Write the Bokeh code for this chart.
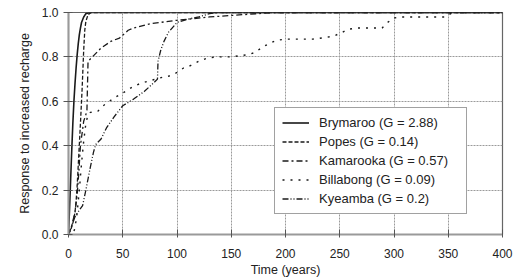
from bokeh.plotting import figure
from bokeh.models import Range1d, FixedTicker, Legend, LegendItem
from bokeh.embed import file_html
from bokeh.resources import INLINE

# --- data ---
bry_t = [0, 1, 2, 3, 4, 5, 6, 7, 8, 9, 10, 11, 12, 14, 16, 20, 400]
bry_v = [0, 0.12, 0.25, 0.38, 0.5, 0.6, 0.68, 0.75, 0.81, 0.86, 0.9, 0.93, 0.955, 0.98, 0.995, 1.0, 1.0]

pop_t = [0, 2, 4, 6, 7, 8, 9.5, 11, 12.5, 14, 15, 16, 18, 21, 400]
pop_v = [0, 0.02, 0.05, 0.1, 0.15, 0.22, 0.36, 0.5, 0.65, 0.83, 0.92, 0.96, 0.99, 1.0, 1.0]

kam_t = [0, 3, 6, 8, 9.5, 11, 14, 16, 17, 18, 22, 30, 39, 47, 55, 60, 76, 100, 130, 160, 190, 400]
kam_v = [0, 0.04, 0.1, 0.18, 0.28, 0.4, 0.51, 0.54, 0.56, 0.78, 0.80, 0.84, 0.87, 0.885, 0.92, 0.93, 0.95, 0.965, 0.98, 0.99, 1.0, 1.0]

bil_t = [0, 4, 6, 8, 10, 12, 14, 16, 18, 20, 27, 32, 42, 51, 59, 66, 73, 88, 94, 100, 106, 112,
         120, 128, 136, 150, 165, 172, 179, 185, 192, 200, 225, 238, 245, 252, 258, 266, 289,
         294, 300, 305, 347, 354, 400]
bil_v = [0, 0.0, 0.03, 0.1, 0.2, 0.32, 0.42, 0.5, 0.54, 0.55, 0.555, 0.58, 0.615, 0.64, 0.665,
         0.68, 0.69, 0.71, 0.715, 0.73, 0.75, 0.76, 0.78, 0.795, 0.80, 0.80, 0.81, 0.82, 0.845,
         0.86, 0.875, 0.88, 0.88, 0.888, 0.895, 0.91, 0.925, 0.93, 0.93, 0.955, 0.975, 0.98,
         0.98, 1.0, 1.0]

kye_t = [0, 3, 6, 10, 13, 16, 20, 23, 25, 30, 35, 42, 50, 60, 70, 80, 82, 82.5, 85, 88, 92,
         100, 110, 120, 130, 140, 400]
kye_v = [0, 0.04, 0.08, 0.11, 0.13, 0.2, 0.3, 0.37, 0.405, 0.43, 0.48, 0.53, 0.58, 0.61, 0.645,
         0.69, 0.70, 0.78, 0.83, 0.87, 0.91, 0.955, 0.97, 0.98, 0.995, 1.0, 1.0]

names = ["Brymaroo (G = 2.88)", "Popes (G = 0.14)", "Kamarooka (G = 0.57)",
         "Billabong (G = 0.09)", "Kyeamba (G = 0.2)"]
x_ticks = [0, 50, 100, 150, 200, 250, 300, 350, 400]
y_ticks = [0.0, 0.2, 0.4, 0.6, 0.8, 1.0]
y_labels = {0.0: "0.0", 0.2: "0.2", 0.4: "0.4", 0.6: "0.6", 0.8: "0.8", 1.0: "1.0"}

FONT = "Liberation Sans"
INK = "#1a1a1a"

p = figure(width=520, height=279, output_backend="svg", toolbar_location=None,
           x_range=Range1d(0, 400), y_range=Range1d(0, 1.0),
           min_border_left=68, min_border_right=18, min_border_top=12, min_border_bottom=44)

p.outline_line_color = "#666666"
p.outline_line_width = 1.2

for g in (p.xgrid, p.ygrid):
    g.grid_line_color = "#9a9a9a"
    g.grid_line_dash = "2 1"
    g.grid_line_width = 1

p.xaxis.ticker = FixedTicker(ticks=x_ticks)
p.yaxis.ticker = FixedTicker(ticks=y_ticks)
p.yaxis.major_label_overrides = y_labels

for ax in (p.xaxis, p.yaxis):
    ax.axis_line_color = "#9a9a9a"
    ax.axis_line_width = 2
    ax.major_tick_line_color = "#555555"
    ax.minor_tick_line_color = None
    ax.major_label_text_font = FONT
    ax.major_label_text_font_size = "12px"
    ax.major_label_text_color = "#222222"
    ax.axis_label_text_font = FONT
    ax.axis_label_text_font_size = "12.5px"
    ax.axis_label_text_font_style = "normal"
    ax.axis_label_text_color = "#222222"

p.xaxis.major_tick_in = 5
p.xaxis.major_tick_out = 3
p.xaxis.major_label_standoff = 11
p.xaxis.axis_label = "Time (years)"
p.xaxis.axis_label_standoff = 2

p.yaxis.major_tick_in = 4
p.yaxis.major_tick_out = 5
p.yaxis.major_label_standoff = 5
p.yaxis.axis_label = "Response to increased recharge"
p.yaxis.axis_label_standoff = 7

r1 = p.line(bry_t, bry_v, line_color=INK, line_width=1.6)
r2 = p.line(pop_t, pop_v, line_color=INK, line_width=1.3, line_dash="4 2")
r3 = p.line(kam_t, kam_v, line_color=INK, line_width=1.3, line_dash="6 3 2 3")
r4 = p.line(bil_t, bil_v, line_color=INK, line_width=1.4, line_dash="2 6")
r5 = p.line(kye_t, kye_v, line_color=INK, line_width=1.3, line_dash="6 2 1 2 1 2")

legend = Legend(items=[LegendItem(label=n, renderers=[r]) for n, r in
                       zip(names, [r1, r2, r3, r4, r5])],
                location=(206, 20))
legend.label_text_font = FONT
legend.label_text_font_size = "13px"
legend.label_text_color = "#222222"
legend.glyph_width = 27
legend.glyph_height = 15
legend.label_height = 15
legend.label_width = 140
legend.label_standoff = 10
legend.spacing = 4
legend.padding = 7
legend.margin = 0
legend.border_line_color = "#444444"
legend.border_line_width = 1
legend.background_fill_color = "white"
legend.background_fill_alpha = 1
p.add_layout(legend)

open("out.html", "w").write(file_html(p, INLINE))
